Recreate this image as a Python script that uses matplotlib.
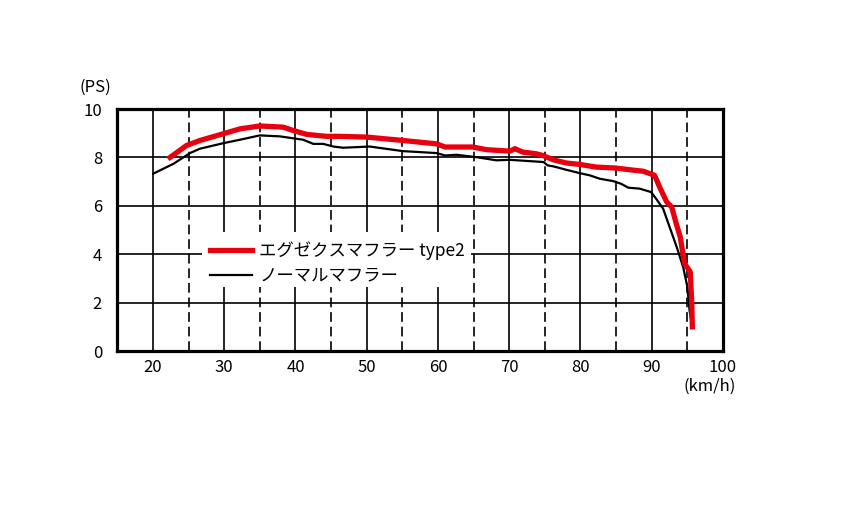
import matplotlib
matplotlib.use("Agg")
import matplotlib.pyplot as plt
from matplotlib.patches import Rectangle

plt.rcParams['font.family'] = ['Noto Sans CJK JP', 'DejaVu Sans']
plt.rcParams['lines.scale_dashes'] = False

# Data (km/h, PS)
red_x = [22.4, 24.7, 26.6, 29.9, 32.2, 35.0, 38.3, 39.7, 41.6, 44.4, 46.2, 50.0,
         55.1, 59.8, 61.0, 64.9, 66.8, 70.1, 70.8, 71.9, 73.8, 74.7, 76.2, 78.0,
         79.9, 82.2, 85.0, 86.9, 88.8, 90.4, 91.1, 92.1, 92.8, 93.5, 94.0, 94.6,
         95.4, 95.6, 95.7]
red_y = [8.00, 8.49, 8.70, 8.98, 9.18, 9.30, 9.25, 9.11, 8.95, 8.87, 8.87, 8.84,
         8.70, 8.56, 8.43, 8.43, 8.32, 8.26, 8.36, 8.22, 8.15, 8.08, 7.90, 7.77,
         7.71, 7.60, 7.56, 7.49, 7.43, 7.26, 6.78, 6.16, 5.95, 5.20, 4.71, 3.62,
         3.27, 2.10, 1.00]

blk_x = [20.05, 22.9, 25.2, 26.6, 29.9, 32.2, 35.0, 37.8, 41.1, 42.5, 43.9, 45.3,
         46.7, 50.4, 55.1, 59.8, 61.0, 62.6, 65.4, 68.2, 70.1, 74.8, 75.4, 76.2,
         78.0, 79.9, 81.3, 82.7, 84.6, 85.7, 86.7, 88.3, 89.9, 90.6, 91.6, 92.5,
         93.5, 94.4, 95.0, 95.3, 95.6]
blk_y = [7.33, 7.74, 8.18, 8.36, 8.59, 8.73, 8.91, 8.87, 8.73, 8.56, 8.56, 8.45,
         8.40, 8.45, 8.26, 8.18, 8.08, 8.11, 8.01, 7.88, 7.90, 7.81, 7.67, 7.63,
         7.49, 7.35, 7.26, 7.12, 7.02, 6.91, 6.75, 6.71, 6.57, 6.30, 5.88, 5.13,
         4.30, 3.48, 2.65, 1.69, 1.14]

red_label = "エグゼクスマフラー type2"
blk_label = "ノーマルマフラー"

x_ticks = [20, 30, 40, 50, 60, 70, 80, 90, 100]
x_dashed = [25, 35, 45, 55, 65, 75, 85, 95]
y_ticks = [0, 2, 4, 6, 8, 10]

fig = plt.figure(figsize=(8.6, 5.3), dpi=100)
ax = fig.add_axes([0.1364, 0.3377, 0.7043, 0.4566])
ax.set_xlim(15, 100)
ax.set_ylim(0, 10)

for x in x_ticks[:-1]:
    ax.axvline(x, color='black', lw=1.2, zorder=1)
for x in x_dashed:
    ax.axvline(x, color='black', lw=1.2, ls=(0, (7, 3.5)), zorder=1)
for y in y_ticks[1:-1]:
    ax.axhline(y, color='black', lw=1.2, zorder=1)

# white legend background
ax.add_patch(Rectangle((0.14, 0.264), 0.444, 0.228, transform=ax.transAxes,
                       facecolor='white', edgecolor='none', zorder=2))

ax.plot(blk_x, blk_y, color='black', lw=1.6, zorder=3, label=blk_label)
ax.plot(red_x, red_y, color='#e8000f', lw=3.8, zorder=4, label=red_label,
        solid_joinstyle='round')

h, l = ax.get_legend_handles_labels()
leg = ax.legend(h[::-1], l[::-1], loc='upper left', bbox_to_anchor=(0.128, 0.518),
                frameon=False, fontsize=12.5, handlelength=2.4, handletextpad=0.4,
                labelspacing=0.38)
leg.set_zorder(5)

ax.set_xticks(x_ticks)
ax.set_yticks(y_ticks)
ax.tick_params(length=0, labelsize=12)
ax.tick_params(axis='y', pad=11)
ax.tick_params(axis='x', pad=6)
for s in ax.spines.values():
    s.set_linewidth(2.3)
    s.set_zorder(6)

fig.text(95 / 860, 1 - 87 / 530, "(PS)", fontsize=12, ha='center', va='center')
fig.text(710 / 860, 1 - 386 / 530, "(km/h)", fontsize=12, ha='center', va='center')

fig.savefig("out.png", dpi=100)
